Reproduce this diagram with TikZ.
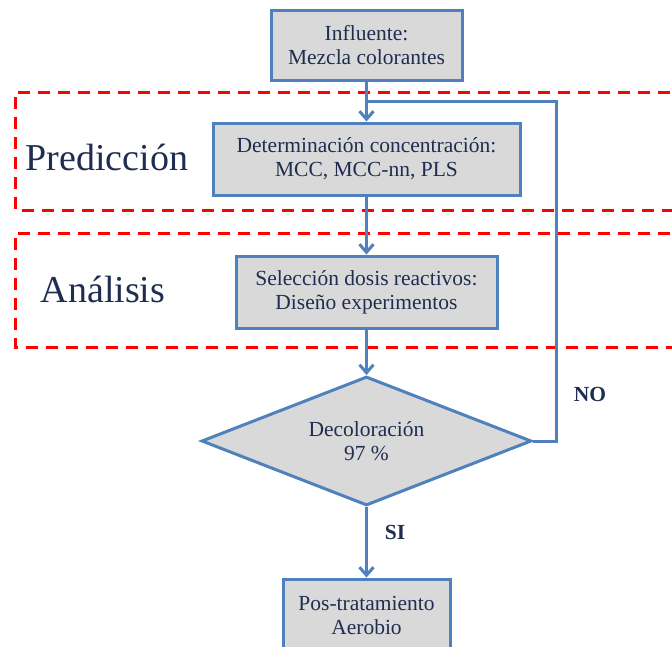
\documentclass[tikz,border=0pt]{standalone}
\usepackage{fontspec}
\setmainfont{Liberation Serif}
\usetikzlibrary{arrows.meta, shapes.geometric}
\definecolor{boxblue}{HTML}{4F81BD}
\definecolor{boxgray}{HTML}{D9D9D9}
\definecolor{inknavy}{HTML}{1F2D50}
\tikzset{
  stepbox/.style={draw=boxblue, line width=3pt, fill=boxgray, text=inknavy,
    align=center, inner sep=0pt, font=\fontsize{21.5}{24}\selectfont},
  flow/.style={draw=boxblue, line width=3pt, -{Straight Barb[length=8pt, width=14pt]}},
  zone/.style={draw=red, line width=3pt, dash pattern=on 12pt off 8pt},
  zonelabel/.style={text=inknavy, font=\fontsize{38}{40}\selectfont},
  answer/.style={text=inknavy, font=\fontsize{21.5}{24}\selectfont\bfseries}
}
\begin{document}
\begin{tikzpicture}[x=1pt, y=-1pt]
  \useasboundingbox (0,0) rectangle (672,646);
  \clip (0,0) rectangle (672,646);
  % zones
  \draw[zone] (690,92) -- (15,92) -- (15,210) -- (690,210);
  \draw[zone] (690,233) -- (15,233) -- (15,347) -- (690,347);
  \node[zonelabel] (pred) at (107,157) {Predicción};
  \node[zonelabel] (anal) at (103,289) {Análisis};
  % process boxes
  \node[stepbox, minimum width=191pt, minimum height=70pt] (inf) at (366.5,45)
    {Influente:\\Mezcla colorantes};
  \node[stepbox, minimum width=307pt, minimum height=72pt] (det) at (366.5,159)
    {Determinación concentración:\\MCC, MCC-nn, PLS};
  \node[stepbox, minimum width=261pt, minimum height=72pt] (sel) at (366.5,292)
    {Selección dosis reactivos:\\Diseño experimentos};
  \node[stepbox, diamond, aspect=2.56, minimum width=330pt, minimum height=129pt]
    (dec) at (366.5,441) {Decoloración\\97 \%};
  \node[stepbox, minimum width=167pt, minimum height=72pt] (pos) at (366.5,615)
    {Pos-tratamiento\\Aerobio};
  % connectors
  \coordinate (join) at (366.5,101);
  \coordinate (ret) at (556,101);
  \draw[flow] (inf.south) -- (det.north);
  \draw[flow] (det.south) -- (sel.north);
  \draw[flow] (sel.south) -- (dec.north);
  \draw[flow] (dec.south) -- (pos.north);
  \draw[draw=boxblue, line width=3pt] (dec.east) -| (ret) -- (join);
  \node[answer] (no) at (590,394) {NO};
  \node[answer] (si) at (395,532) {SI};
\end{tikzpicture}
\end{document}
